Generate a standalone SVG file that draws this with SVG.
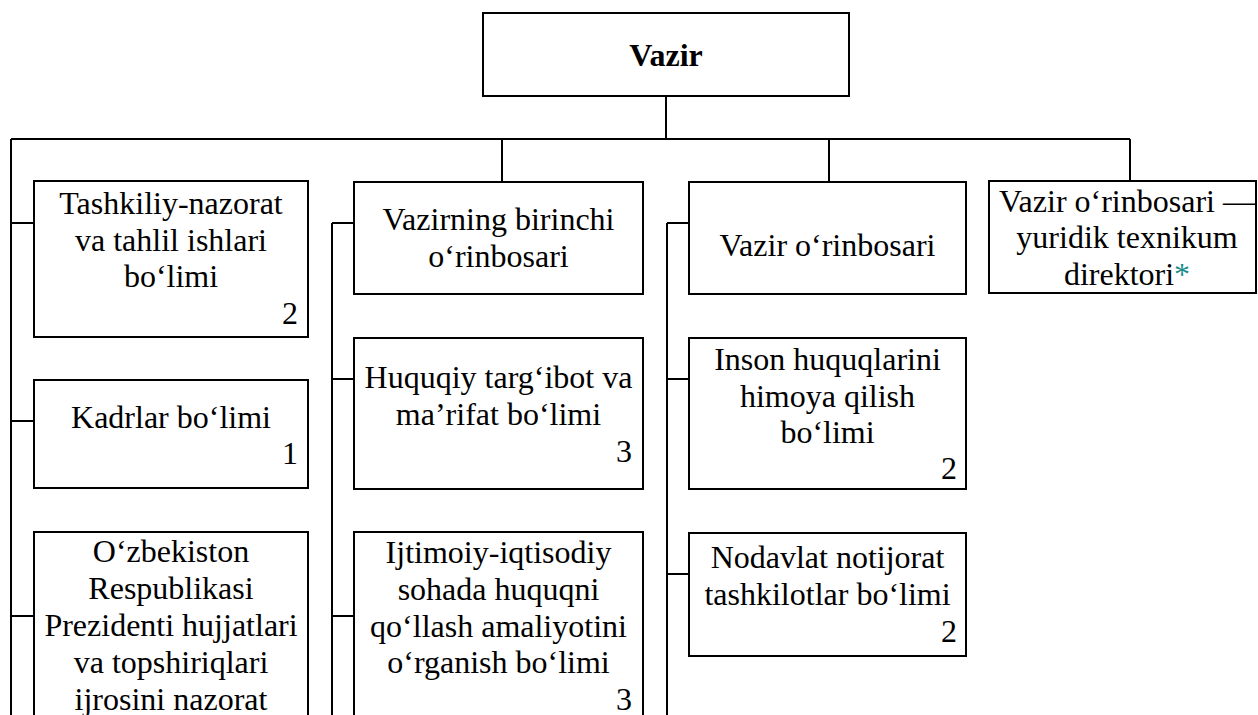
<svg xmlns="http://www.w3.org/2000/svg" width="1258" height="715" viewBox="0 0 1258 715">
<style>
.box{fill:#fff;stroke:#000;stroke-width:2}
.ln{fill:none;stroke:#000;stroke-width:2}
.t{font-family:'Liberation Serif','Times New Roman',serif;font-size:32px;fill:#000;text-anchor:middle}
.n{font-family:'Liberation Serif','Times New Roman',serif;font-size:32px;fill:#000;text-anchor:end}
.b{font-weight:bold}
.ast{fill:#1a8c8c}
</style>
<rect width="1258" height="715" fill="#fff"/>
<g id="connectors">
<path class="ln" d="M666 96V139M11 139H1130M11 139V715M502 139V182M829 139V182M1130 139V181"/>
<path class="ln" d="M11 223H34M11 421H34M11 616H34"/>
<path class="ln" d="M332 223V715M332 223H354M332 379H354M332 616H354"/>
<path class="ln" d="M667 223V715M667 223H689M667 379H689M667 574H689"/>
</g>
<g id="vazir">
<rect class="box" x="483" y="13" width="366" height="83"/>
<text class="t b" x="666" y="66">Vazir</text>
</g>
<g id="tashkiliy">
<rect class="box" x="34" y="181" width="274" height="156"/>
<text class="t" x="171" y="214">Tashkiliy-nazorat</text>
<text class="t" x="171" y="251">va tahlil ishlari</text>
<text class="t" x="171" y="287">bo‘limi</text>
<text class="n" x="298" y="324">2</text>
</g>
<g id="kadrlar">
<rect class="box" x="34" y="380" width="274" height="108"/>
<text class="t" x="171" y="428">Kadrlar bo‘limi</text>
<text class="n" x="298" y="464">1</text>
</g>
<g id="prezident">
<rect class="box" x="34" y="532" width="274" height="240"/>
<text class="t" x="171" y="562">O‘zbekiston</text>
<text class="t" x="171" y="599">Respublikasi</text>
<text class="t" x="171" y="636">Prezidenti hujjatlari</text>
<text class="t" x="171" y="673">va topshiriqlari</text>
<text class="t" x="171" y="710">ijrosini nazorat</text>
</g>
<g id="birinchi">
<rect class="box" x="354" y="182" width="289" height="112"/>
<text class="t" x="498.5" y="230">Vazirning birinchi</text>
<text class="t" x="498.5" y="267">o‘rinbosari</text>
</g>
<g id="huquqiy">
<rect class="box" x="354" y="338" width="289" height="151"/>
<text class="t" x="498.5" y="388">Huquqiy targ‘ibot va</text>
<text class="t" x="498.5" y="425">ma’rifat bo‘limi</text>
<text class="n" x="632" y="462">3</text>
</g>
<g id="ijtimoiy">
<rect class="box" x="354" y="532" width="289" height="240"/>
<text class="t" x="498.5" y="563">Ijtimoiy-iqtisodiy</text>
<text class="t" x="498.5" y="600">sohada huquqni</text>
<text class="t" x="498.5" y="637">qo‘llash amaliyotini</text>
<text class="t" x="498.5" y="673">o‘rganish bo‘limi</text>
<text class="n" x="632" y="710">3</text>
</g>
<g id="orinbosar">
<rect class="box" x="689" y="182" width="277" height="112"/>
<text class="t" x="827.5" y="256">Vazir o‘rinbosari</text>
</g>
<g id="inson">
<rect class="box" x="689" y="338" width="277" height="151"/>
<text class="t" x="827.5" y="370">Inson huquqlarini</text>
<text class="t" x="827.5" y="407">himoya qilish</text>
<text class="t" x="827.5" y="443">bo‘limi</text>
<text class="n" x="957" y="479">2</text>
</g>
<g id="nodavlat">
<rect class="box" x="689" y="533" width="277" height="123"/>
<text class="t" x="827.5" y="568">Nodavlat notijorat</text>
<text class="t" x="827.5" y="605">tashkilotlar bo‘limi</text>
<text class="n" x="957" y="642">2</text>
</g>
<g id="texnikum">
<rect class="box" x="989" y="181" width="267" height="112"/>
<text class="t" x="1127" y="212">Vazir o‘rinbosari —</text>
<text class="t" x="1127" y="248">yuridik texnikum</text>
<text class="t" x="1127" y="285">direktori<tspan class="ast">*</tspan></text>
</g>
</svg>
